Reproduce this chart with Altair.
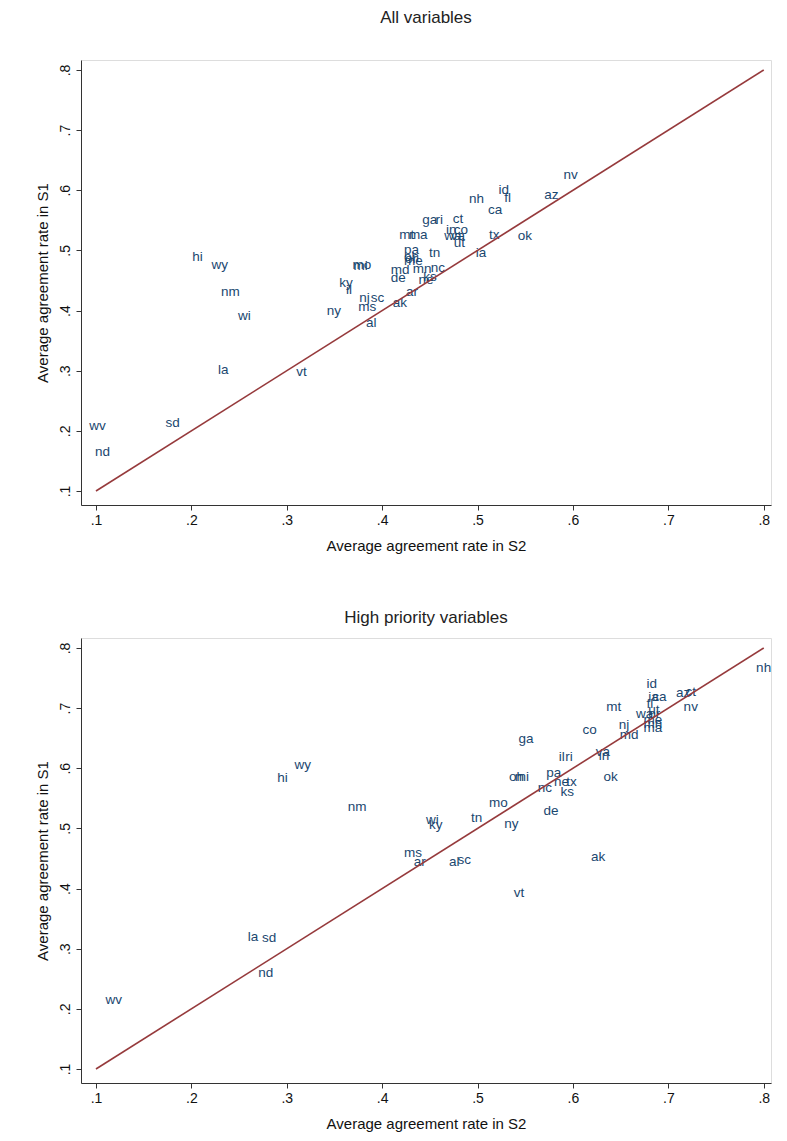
import altair as alt
import pandas as pd

# ---------------- data ----------------
top_states = ["nv", "id", "fl", "nh", "az", "ca", "ga", "ri", "ct", "in", "co",
              "mt", "ma", "wa", "va", "ut", "tx", "ok", "pa", "oh", "or", "me",
              "tn", "ia", "mo", "mi", "md", "de", "mn", "nc", "ne", "ks", "ar",
              "ky", "il", "nj", "sc", "ms", "ak", "al", "ny", "hi", "wy", "nm",
              "wi", "la", "vt", "sd", "wv", "nd"]
top_s2 = [0.590, 0.522, 0.528, 0.491, 0.570, 0.511, 0.442, 0.456, 0.474, 0.467, 0.475,
          0.418, 0.428, 0.465, 0.472, 0.475, 0.512, 0.542, 0.423, 0.423, 0.424, 0.423,
          0.449, 0.498, 0.369, 0.370, 0.409, 0.409, 0.432, 0.451, 0.438, 0.443, 0.425,
          0.355, 0.362, 0.376, 0.388, 0.375, 0.411, 0.383, 0.342, 0.201, 0.221, 0.231,
          0.249, 0.228, 0.310, 0.173, 0.093, 0.099]
top_s1 = [0.625, 0.600, 0.587, 0.585, 0.592, 0.567, 0.550, 0.550, 0.552, 0.534, 0.534,
          0.525, 0.525, 0.524, 0.524, 0.512, 0.525, 0.524, 0.500, 0.489, 0.486, 0.482,
          0.496, 0.496, 0.476, 0.474, 0.467, 0.454, 0.469, 0.470, 0.451, 0.456, 0.431,
          0.446, 0.434, 0.421, 0.421, 0.406, 0.412, 0.379, 0.399, 0.489, 0.476, 0.431,
          0.391, 0.301, 0.298, 0.213, 0.208, 0.164]

bot_states = ["nh", "id", "ia", "ca", "az", "ct", "nv", "mt", "fl", "ut", "wa", "or",
              "me", "mn", "ma", "nj", "md", "co", "ga", "il", "ri", "va", "in", "ok",
              "oh", "mi", "pa", "ne", "nc", "tx", "ks", "mo", "de", "ny", "wi", "ky",
              "tn", "ms", "ar", "al", "sc", "ak", "vt", "wy", "hi", "nm", "la", "sd",
              "nd", "wv"]
bot_s2 = [0.792, 0.677, 0.679, 0.683, 0.708, 0.718, 0.716, 0.635, 0.677, 0.679, 0.666, 0.679,
          0.674, 0.674, 0.674, 0.648, 0.649, 0.610, 0.543, 0.585, 0.592, 0.624, 0.627, 0.632,
          0.533, 0.539, 0.572, 0.580, 0.563, 0.593, 0.587, 0.512, 0.569, 0.528, 0.446, 0.449,
          0.493, 0.423, 0.433, 0.470, 0.479, 0.619, 0.538, 0.308, 0.290, 0.364, 0.259, 0.274,
          0.270, 0.110]
bot_s1 = [0.767, 0.740, 0.718, 0.718, 0.725, 0.727, 0.702, 0.702, 0.707, 0.697, 0.690, 0.690,
          0.680, 0.674, 0.667, 0.672, 0.655, 0.664, 0.649, 0.619, 0.619, 0.627, 0.620, 0.585,
          0.585, 0.585, 0.592, 0.577, 0.567, 0.577, 0.560, 0.542, 0.529, 0.507, 0.514, 0.506,
          0.517, 0.459, 0.444, 0.444, 0.447, 0.452, 0.392, 0.605, 0.584, 0.535, 0.319, 0.317,
          0.259, 0.214]

diag_vals = [0.1, 0.8]
tick_vals = [0.1, 0.2, 0.3, 0.4, 0.5, 0.6, 0.7, 0.8]
x_domain = [0.0843, 0.8076]
y_domain = [0.0767, 0.8166]

FONT = "Liberation Sans"
LABEL_COLOR = "#1a476f"
LINE_COLOR = "#963a3c"
AXIS_COLOR = "#333333"
LABEL_EXPR = "replace(format(datum.value, '.1f'), '0.', '.')"


def panel(title, states, s2, s1, title_offset):
    df = pd.DataFrame({"state": states, "s2": s2, "s1": s1})
    diag = pd.DataFrame({"s2": diag_vals, "s1": diag_vals})
    xscale = alt.Scale(domain=x_domain, nice=False, zero=False)
    yscale = alt.Scale(domain=y_domain, nice=False, zero=False)
    xaxis = alt.Axis(values=tick_vals, labelExpr=LABEL_EXPR, grid=False,
                     title="Average agreement rate in S2", titleFontSize=15,
                     titleFontWeight="normal", titleFont=FONT, titleColor="#111111",
                     labelFont=FONT, labelFontSize=14, labelColor="#111111",
                     tickSize=5, tickColor=AXIS_COLOR, domainColor=AXIS_COLOR,
                     labelPadding=3, titlePadding=11)
    yaxis = alt.Axis(values=tick_vals, labelExpr=LABEL_EXPR, grid=False,
                     title="Average agreement rate in S1", titleFontSize=15,
                     titleFontWeight="normal", titleFont=FONT, titleColor="#111111",
                     labelFont=FONT, labelFontSize=14, labelColor="#111111",
                     labelAngle=270, labelAlign="center", labelBaseline="bottom",
                     tickSize=5, tickColor=AXIS_COLOR, domainColor=AXIS_COLOR,
                     labelPadding=4, titlePadding=8)
    text = alt.Chart(df).mark_text(
        align="left", baseline="middle", font=FONT, fontSize=13.5, color=LABEL_COLOR
    ).encode(
        x=alt.X("s2:Q", scale=xscale, axis=xaxis),
        y=alt.Y("s1:Q", scale=yscale, axis=yaxis),
        text="state:N",
    )
    line = alt.Chart(diag).mark_line(color=LINE_COLOR, strokeWidth=1.6).encode(
        x=alt.X("s2:Q", scale=xscale, axis=xaxis),
        y=alt.Y("s1:Q", scale=yscale, axis=yaxis),
    )
    return alt.layer(text, line).properties(
        width=690, height=445,
        title=alt.TitleParams(title, font=FONT, fontSize=17, fontWeight="normal",
                              color="#222222", anchor="middle", frame="group",
                              offset=title_offset),
    )


top = panel("All variables", top_states, top_s2, top_s1, 33)
bottom = panel("High priority variables", bot_states, bot_s2, bot_s1, 11)

chart = alt.vconcat(top, bottom, spacing=54).properties(
    padding={"left": 26, "top": 0, "right": 5, "bottom": 5}
).configure_view(stroke=None).configure(background="white")

chart.save("out.html", embed_options={"renderer": "svg", "actions": False})
